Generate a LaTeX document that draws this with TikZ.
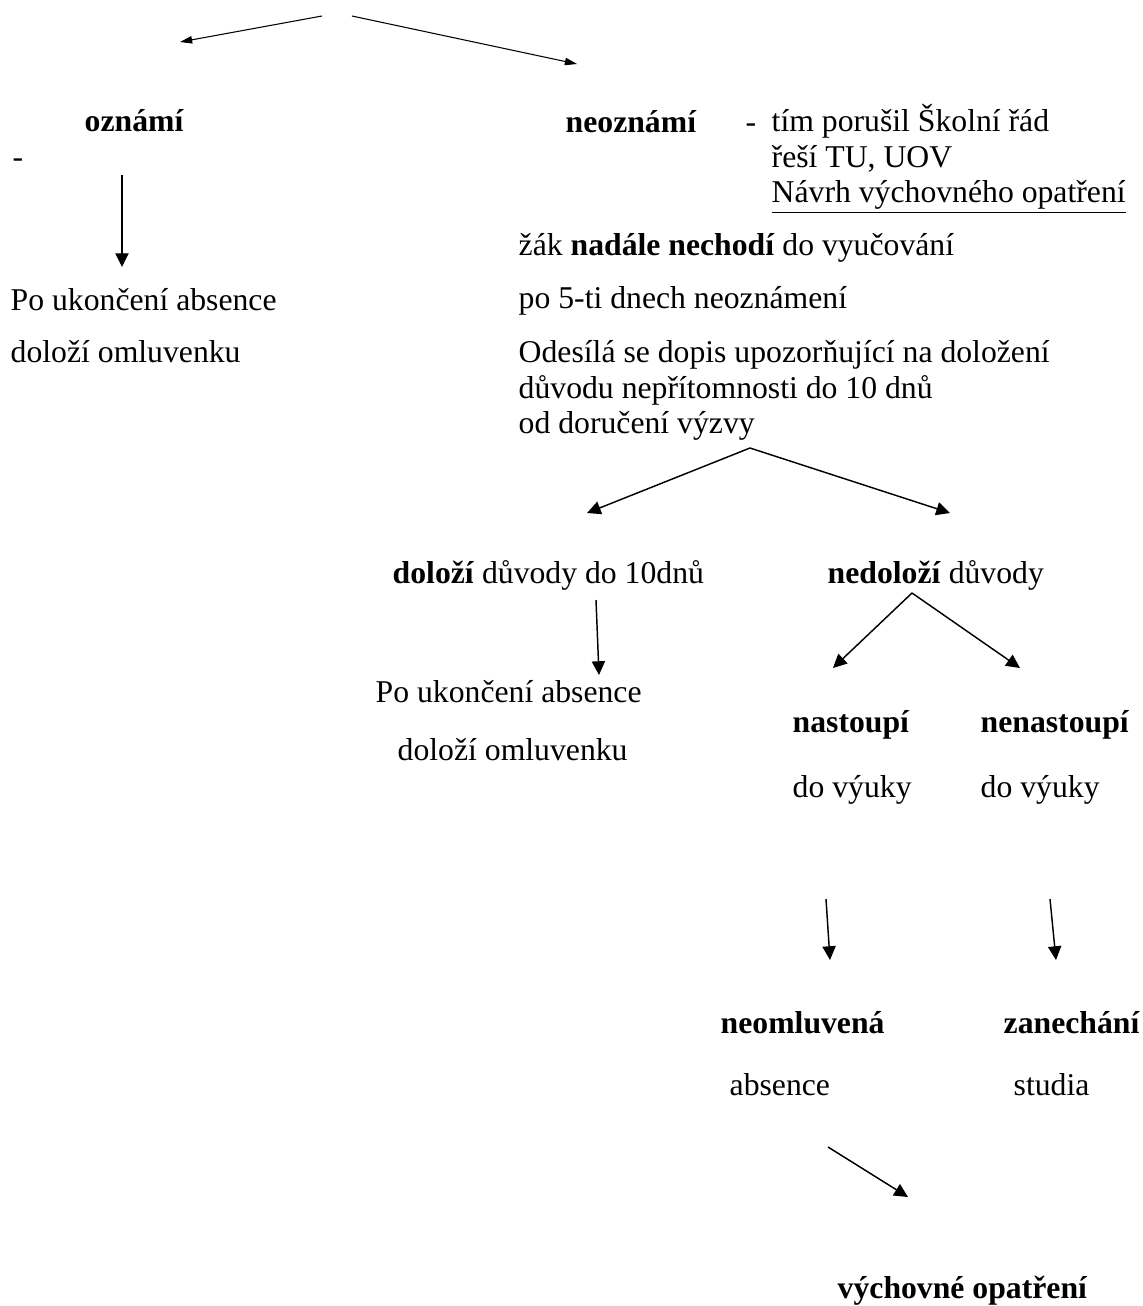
\documentclass[tikz,border=0pt]{standalone}
\usepackage{fontspec}
\setmainfont{Liberation Serif}
\usetikzlibrary{positioning}
\usetikzlibrary{arrows.meta}

\begin{document}
\begin{tikzpicture}[x=0.3785pt,y=-0.3785pt,->,>={Triangle[length=5.2pt,width=5pt]},line width=0.55pt]
			\tikzset{txt/.style = {anchor=base west, inner sep=0pt, align=left, font=\fontsize{12pt}{13.25pt}\selectfont}}
			\tikzset{thin arrow/.style = {line width=0.4pt, >={Triangle[length=4.6pt,width=2.8pt]}}}
			\useasboundingbox (0,0) rectangle (1143,1306);
			
			% left branch
			\node[txt] (OZNAMI) at (84,131) {\textbf{oznámí}};
			\node[txt] (DASHL) at (12,167) {-};
			\node[txt] (UKONCENI) at (10,310) {Po ukončení absence};
			\node[txt] (OMLUVENKA) at (10,362) {doloží omluvenku};
			
			% right branch (multi-line nodes sit on their last line)
			\node[txt] (NEOZNAMI) at (565,132) {\textbf{neoznámí}};
			\node[txt] (DASHR) at (745,132) {-};
			\node[txt] (RAD) at (771,202) {tím porušil Školní řád\\ řeší TU, UOV\\ \underline{Návrh výchovného opatření}};
			\node[txt] (NECHODI) at (518,255) {žák \textbf{nadále nechodí} do vyučování};
			\node[txt] (PETDNU) at (518,308) {po 5-ti dnech neoznámení};
			\node[txt] (DOPIS) at (518,433) {Odesílá se dopis upozorňující na doložení\\ důvodu nepřítomnosti do 10 dnů\\ od doručení výzvy};
			
			\node[txt] (DOLOZI) at (392,583) {\textbf{doloží} důvody do 10dnů};
			\node[txt] (UKONCENI2) at (375,702) {Po ukončení absence};
			\node[txt] (OMLUVENKA2) at (397,760) {doloží omluvenku};
			
			\node[txt] (NEDOLOZI) at (827,583) {\textbf{nedoloží} důvody};
			\node[txt] (NASTOUPI) at (792,732) {\textbf{nastoupí}};
			\node[txt] (VYUKA1) at (792,797) {do výuky};
			\node[txt] (NENASTOUPI) at (980,732) {\textbf{nenastoupí}};
			\node[txt] (VYUKA2) at (980,797) {do výuky};
			
			\node[txt] (NEOMLUVENA) at (720,1033) {\textbf{neomluvená}};
			\node[txt] (ABSENCE) at (729,1095) {absence};
			\node[txt] (ZANECHANI) at (1003,1033) {\textbf{zanechání}};
			\node[txt] (STUDIA) at (1013,1095) {studia};
			\node[txt] (OPATRENI) at (837,1298) {\textbf{výchovné opatření}};
			
			% arrow ends
			\coordinate (TOPL) at (322,16);
			\coordinate (TOPR) at (352,16);
			\coordinate (TOL) at (180,42);
			\coordinate (TOR) at (577,64);
			\coordinate (OZN1) at (122,175);
			\coordinate (OZN2) at (122,267);
			\coordinate (VYZVA) at (750,448);
			\coordinate (TODOL) at (587,513);
			\coordinate (TONED) at (950,513);
			\coordinate (DOL1) at (596,600);
			\coordinate (DOL2) at (599,675);
			\coordinate (NED) at (912,593);
			\coordinate (TONAS) at (833,668);
			\coordinate (TONEN) at (1020,668);
			\coordinate (NAS1) at (826,899);
			\coordinate (NAS2) at (830,960);
			\coordinate (NEN1) at (1050,899);
			\coordinate (NEN2) at (1056,960);
			\coordinate (ABS1) at (828,1147);
			\coordinate (ABS2) at (908,1197);
			
			\draw[thin arrow] (TOPL) -- (TOL);
			\draw[thin arrow] (TOPR) -- (TOR);
			\draw (OZN1) -- (OZN2);
			\draw (VYZVA) -- (TODOL);
			\draw (VYZVA) -- (TONED);
			\draw (DOL1) -- (DOL2);
			\draw (NED) -- (TONAS);
			\draw (NED) -- (TONEN);
			\draw (NAS1) -- (NAS2);
			\draw (NEN1) -- (NEN2);
			\draw (ABS1) -- (ABS2);
			
			\end{tikzpicture}
\end{document}
